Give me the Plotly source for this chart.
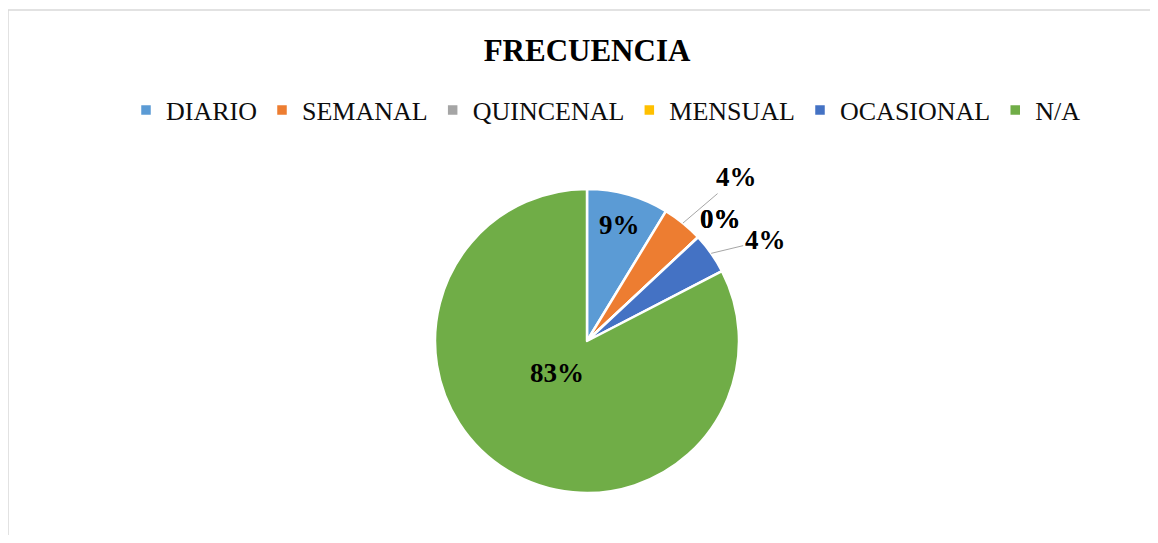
import numpy as np
import plotly.graph_objects as go

# datos de la encuesta
categorias = ["DIARIO", "SEMANAL", "QUINCENAL", "MENSUAL", "OCASIONAL", "N/A"]
respuestas = [2, 1, 0, 0, 1, 19]
colores = ["#5B9BD5", "#ED7D31", "#A5A5A5", "#FFC000", "#4472C4", "#70AD47"]

# la pagina tiene 8px de margen, la figura queda en 1142x527
OFF = 8
W, H = 1142, 527
cx, cy, R = 587 - OFF, 341 - OFF, 152  # centro y radio de la torta en px

# como se ubica cada etiqueta: dentro (radio relativo) o fuera (desplazamiento px)
etiquetas = {
    "DIARIO": ("in", 0.79),
    "SEMANAL": ("arrow", 54, -46),
    "QUINCENAL": ("shift", 22, -18),
    "MENSUAL": ("shift", 22, -18),
    "OCASIONAL": ("arrow", 54, -13),
    "N/A": ("in", 0.38),
}

fig = go.Figure(go.Pie(
    labels=categorias,
    values=respuestas,
    sort=False,
    direction="clockwise",
    rotation=0,
    marker=dict(colors=colores, line=dict(color="white", width=2.5)),
    textinfo="none",
    hoverinfo="label+percent",
    domain=dict(x=[(cx - R) / W, (cx + R) / W], y=[1 - (cy + R) / H, 1 - (cy - R) / H]),
))

total = sum(respuestas)
frac = np.array(respuestas) / total
inicio = np.concatenate([[0], np.cumsum(frac)[:-1]])
medio = (inicio + frac / 2) * 2 * np.pi

def a_paper(px, py):
    return px / W, 1 - py / H

fuente = dict(family="Liberation Serif", size=27, color="black", weight="bold")

for cat, f, ang in zip(categorias, frac, medio):
    txt = f"{round(f * 100):.0f}%"
    modo = etiquetas[cat]
    if modo[0] == "in":
        r = modo[1] * R
        x, y = a_paper(cx + r * np.sin(ang), cy - r * np.cos(ang))
        fig.add_annotation(x=x, y=y, xref="paper", yref="paper", text=txt,
                           showarrow=False, font=fuente)
    else:
        x, y = a_paper(cx + R * np.sin(ang), cy - R * np.cos(ang))
        if modo[0] == "arrow":
            fig.add_annotation(x=x, y=y, xref="paper", yref="paper", text=txt,
                               showarrow=True, ax=modo[1], ay=modo[2], arrowhead=0,
                               arrowwidth=1, arrowcolor="#A6A6A6", standoff=0,
                               font=fuente)
        else:
            fig.add_annotation(x=x, y=y, xref="paper", yref="paper", text=txt,
                               showarrow=False, xshift=modo[1], yshift=-modo[2],
                               font=fuente)

# marco del grafico
fig.add_shape(type="rect", xref="paper", yref="paper",
              x0=0, x1=1.05, y0=-0.05, y1=1 - 2 / H,
              line=dict(color="#D9D9D9", width=1.5))

fig.update_layout(
    width=W, height=H,
    title=dict(text="FRECUENCIA", x=(587 - OFF) / W, xanchor="center",
               y=1 - (50 - OFF) / H, yanchor="middle", yref="container",
               font=dict(family="Liberation Serif", size=31, color="black", weight="bold")),
    legend=dict(orientation="h", x=(606 - OFF) / W, xanchor="center",
                y=1 - (110 - OFF) / H, yanchor="middle",
                font=dict(family="Liberation Serif", size=26, color="#0d0d0d")),
    margin=dict(l=0, r=0, t=0, b=0),
    paper_bgcolor="white",
    plot_bgcolor="white",
)

fig.write_html("out.html")
